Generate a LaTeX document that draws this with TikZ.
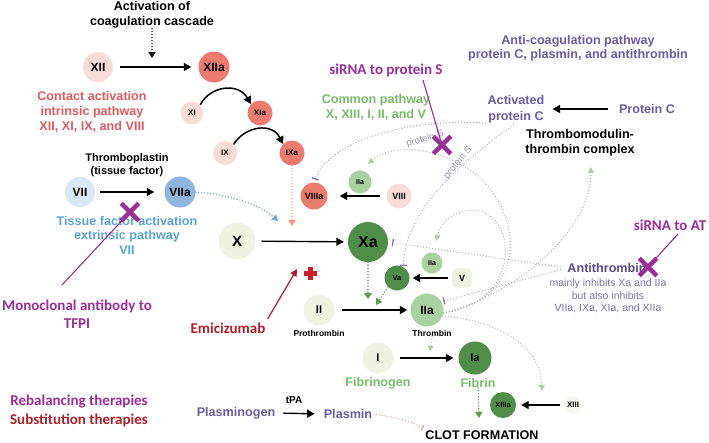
\documentclass[tikz,border=0pt]{standalone}
\usepackage{fontspec}
\setmainfont{Liberation Sans}
\newfontfamily\calfont{Carlito}
\usetikzlibrary{arrows.meta,shapes.misc}
\newcommand\myfs[2]{\fontsize{#1}{#2}\selectfont}
\definecolor{pinkL}{HTML}{F8DCDA}
\definecolor{salmon}{HTML}{EB7B6E}
\definecolor{blueL}{HTML}{DAE8F5}
\definecolor{blueM}{HTML}{8FB4DD}
\definecolor{greenP}{HTML}{EFF4E2}
\definecolor{greenL}{HTML}{A9D1A1}
\definecolor{greenD}{HTML}{4F8E49}
\definecolor{redT}{HTML}{E25A62}
\definecolor{blueT}{HTML}{5CA4D6}
\definecolor{greenT}{HTML}{7CBB6D}
\definecolor{purpT}{HTML}{6C5CA5}
\definecolor{atT}{HTML}{5B4B94}
\definecolor{atS}{HTML}{7E74B0}
\definecolor{magT}{HTML}{9C2E97}
\definecolor{dredT}{HTML}{B21E2A}
\definecolor{plusR}{HTML}{CC1F2A}
\definecolor{gdot}{HTML}{A3B69C}
\definecolor{pdot}{HTML}{A6A4C8}
\definecolor{pdotT}{HTML}{9795BF}
\definecolor{sdot}{HTML}{EE9888}
\definecolor{bdot}{HTML}{6FA7D5}
\definecolor{gArr}{HTML}{5E9C54}
\begin{document}
\begin{tikzpicture}[x=1pt,y=-1pt,
  fac/.style={circle, inner sep=0pt},
  lab/.style={align=center, inner sep=0pt, font=\bfseries\myfs{12.6}{15}},
  cal/.style={align=center, inner sep=0pt, font=\calfont\bfseries\myfs{15}{18}},
  arr/.style={line width=1.4pt, -{Triangle[length=7.5pt,width=8pt]}},
  dotline/.style={line width=1.3pt, line cap=round, dash pattern=on 0pt off 3pt},
  gcurve/.style={dotline, color=gdot, -{Triangle[length=6pt,width=6pt,color=greenL]}},
  inhib/.style={dotline, -{Bar[width=7pt,line width=1.3pt]}},
  xmark/.style={cross out, draw=magT, line width=4.5pt, minimum size=13pt, inner sep=0pt},
  pline/.style={magT, line width=1.1pt}
]
\fill[white] (0,0) rectangle (709,442);
\useasboundingbox (0,0) rectangle (709,442);

% ---------- text labels ----------
\node[lab] (act) at (152,15) {Activation of\\coagulation cascade};
\node[lab, text=redT] (contact) at (92,112) {Contact activation\\intrinsic pathway\\XII, XI, IX, and VIII};
\node[lab, font=\bfseries\myfs{11}{13}] (tpl) at (127,165) {Thromboplastin\\(tissue factor)};
\node[lab, text=blueT, font=\bfseries\myfs{12.6}{14.5}] (tfa) at (127,235) {Tissue factor activation\\extrinsic pathway\\VII};
\node[cal, text=magT] (mono) at (77,314) {Monoclonal antibody to\\TFPI};
\node[cal, text=dredT] (emi) at (228,328) {Emicizumab};
\node[cal, text=magT] (rebal) at (79,402) {Rebalancing therapies};
\node[cal, text=dredT] (subst) at (79,420) {Substitution therapies};
\node[lab, text=purpT] (plg) at (236,413) {Plasminogen};
\node[lab, font=\bfseries\myfs{10}{10}] (tpa) at (294,400) {tPA};
\node[lab, text=purpT] (plm) at (348,414) {Plasmin};
\node[lab] (clot) at (482,435) {CLOT FORMATION};
\node[lab, text=greenT] (common) at (376,107) {Common pathway\\X, XIII, I, II, and V};
\node[cal, text=magT] (sirnaS) at (386,70) {siRNA to protein S};
\node[lab, text=purpT, font=\bfseries\myfs{12.6}{13.5}] (anti) at (578,48) {Anti-coagulation pathway\\protein C, plasmin, and antithrombin};
\node[lab, text=purpT, font=\bfseries\myfs{12.6}{16}] (actC) at (516,109) {Activated\\protein C};
\node[lab, text=purpT] (protC) at (647,109) {Protein C};
\node[lab] (tm) at (580,143) {Thrombomodulin-\\thrombin complex};
\node[lab, text=atT] (atn) at (607,268) {Antithrombin};
\node[align=center, inner sep=0pt, text=atS, font=\myfs{10.5}{12.5}] (atsub) at (608,296) {mainly inhibits Xa and IIa\\but also inhibits\\VIIa, IXa, XIa, and XIIa};
\node[cal, text=magT] (sirnaAT) at (670,225) {siRNA to AT};
\node[lab, font=\bfseries\myfs{8.5}{9}] (proth) at (319,333) {Prothrombin};
\node[lab, font=\bfseries\myfs{8.5}{9}] (thr) at (432,333) {Thrombin};
\node[lab, text=greenT] (fibg) at (378,383) {Fibrinogen};
\node[lab, text=greenT] (fib) at (478,383) {Fibrin};

% ---------- factor circles ----------
\node[fac, fill=pinkL, minimum size=30pt, font=\bfseries\myfs{12}{12}] (fXII) at (98,67) {XII};
\node[fac, fill=salmon, minimum size=31pt, font=\bfseries\myfs{12}{12}] (fXIIa) at (214,67) {XIIa};
\node[fac, fill=pinkL, minimum size=23pt, font=\bfseries\myfs{8}{8}] (fXI) at (192,113) {XI};
\node[fac, fill=salmon, minimum size=25pt, font=\bfseries\myfs{8}{8}] (fXIa) at (260,113) {XIa};
\node[fac, fill=pinkL, minimum size=24pt, font=\bfseries\myfs{8}{8}] (fIX) at (225,153) {IX};
\node[fac, fill=salmon, minimum size=25pt, font=\bfseries\myfs{8}{8}] (fIXa) at (292,153) {IXa};
\node[fac, fill=blueL, minimum size=30pt, font=\bfseries\myfs{12}{12}] (fVII) at (80,192) {VII};
\node[fac, fill=blueM, minimum size=31pt, font=\bfseries\myfs{12}{12}] (fVIIa) at (180,192) {VIIa};
\node[fac, fill=greenP, minimum size=37pt, font=\bfseries\myfs{15}{15}] (fX) at (237,241) {X};
\node[fac, fill=greenD, minimum size=40pt, font=\bfseries\myfs{16}{16}] (fXa) at (368,242) {Xa};
\node[fac, fill=salmon, minimum size=27pt, font=\bfseries\myfs{9}{9}] (fVIIIa) at (314,196) {VIIIa};
\node[fac, fill=pinkL, minimum size=25pt, font=\bfseries\myfs{9}{9}] (fVIII) at (399,196) {VIII};
\node[fac, fill=greenL, minimum size=23pt, font=\bfseries\myfs{7}{7}] (fIIaA) at (360,182) {IIa};
\node[fac, fill=greenD, minimum size=25pt, font=\bfseries\myfs{7.5}{7.5}] (fVa) at (397,278) {Va};
\node[fac, fill=greenL, minimum size=21pt, font=\bfseries\myfs{7}{7}] (fIIaB) at (432,263) {IIa};
\node[rectangle, rounded corners=5pt, inner sep=0pt, fill=greenP, minimum size=20pt, font=\bfseries\myfs{9}{9}] (fV) at (462,278) {V};
\node[fac, fill=greenP, minimum size=31pt, font=\bfseries\myfs{11}{11}] (fII) at (319,310) {II};
\node[fac, fill=greenL, minimum size=33pt, font=\bfseries\myfs{12}{12}] (fIIa) at (427,310) {IIa};
\node[fac, fill=greenP, minimum size=31pt, font=\bfseries\myfs{11}{11}] (fI) at (378,358) {I};
\node[fac, fill=greenD, minimum size=33pt, font=\bfseries\myfs{11}{11}] (fIa) at (475,358) {Ia};
\node[fac, fill=greenD, minimum size=26pt, font=\bfseries\myfs{7.5}{7.5}] (fXIIIa) at (503,405) {XIIIa};
\node[fac, fill=greenP!60, minimum size=18pt, font=\bfseries\myfs{8}{8}] (fXIII) at (573,405) {XIII};

% ---------- solid arrows ----------
\draw[arr, shorten <=7pt, shorten >=7pt] (fXII) -- (fXIIa);
\draw[arr, shorten <=5pt, shorten >=10pt] (fVII) -- (fVIIa);
\draw[arr, shorten <=6pt, shorten >=4pt] (fX) -- (fXa);
\draw[arr, shorten <=6pt, shorten >=12pt] (fVIII) -- (fVIIIa);
\draw[arr, shorten <=4pt, shorten >=3pt] (fV) -- (fVa);
\draw[arr, shorten <=7pt, shorten >=3pt] (fII) -- (fIIa);
\draw[arr, shorten <=6pt, shorten >=5pt] (fI) -- (fIa);
\draw[arr, shorten <=4pt, shorten >=5pt] (fXIII) -- (fXIIIa);
\draw[arr, shorten <=11pt, shorten >=8pt] (protC.west) -- (actC.east);
\draw[arr, shorten <=8pt, shorten >=9pt] (plg.east) -- (plm.west);
\draw[arr, line width=1.5pt] (fXI.north east) .. controls (210,86) and (238,82) .. (fXIa.north west);
\draw[arr, line width=1.5pt] (fIX.north east) .. controls (245,126) and (272,122) .. (fIXa.north west);

% ---------- dotted arrows ----------
\coordinate (actE) at (152,58);
\draw[dotline, line width=1.5pt, -{Triangle[length=6pt,width=7pt]}] (act.south) -- (actE);
\coordinate (ixaE) at (292,226);
\draw[dotline, color=sdot, line width=1.5pt, -{Triangle[length=6pt,width=7pt]}] (fIXa.south) -- (ixaE);
\coordinate (viiaE) at (278,221);
\draw[dotline, color=bdot, line width=1.6pt, -{Triangle[length=6pt,width=7pt]}] (fVIIa.east) .. controls (225,194) and (258,203) .. (viiaE);
\coordinate (xaE) at (368,299);
\draw[dotline, color=gArr, line width=1.8pt, -{Triangle[length=6pt,width=8pt]}] (fXa.south) -- (xaE);
\coordinate (vaE) at (376,305);
\draw[dotline, color=gArr, line width=1.6pt, -{Triangle[length=6pt,width=7pt]}] (fVa.south west) -- (vaE);
\coordinate (thrE) at (430,351);
\draw[dotline, color=greenL, line width=1.5pt, -{Triangle[length=5pt,width=6pt]}] (thr.south) -- (thrE);
\coordinate (fibE) at (479,418);
\draw[dotline, color=gArr, line width=1.6pt, -{Triangle[length=6pt,width=7pt]}] (fib.south) -- (fibE);

% thrombin feedback curves
\coordinate (tmE) at (591,167);
\coordinate (iiaAE) at (368,164);
\coordinate (iiaBE) at (436,241);
\coordinate (xiiiaE) at (542,391);
\draw[gcurve] (fIIa.-10) .. controls (500,300) and (590,240) .. (tmE);
\draw[gcurve] (fIIa.-10) .. controls (530,300) and (515,200) .. (465,211) .. controls (447,215) and (440,226) .. (iiaBE);
\draw[gcurve] (fIIa.-10) .. controls (525,300) and (525,220) .. (480,178) .. controls (450,150) and (395,140) .. (iiaAE);
\draw[gcurve] (fIIa.-20) .. controls (500,322) and (540,345) .. (xiiiaE);

% antithrombin inhibition
\draw[inhib, color=gdot, -{Bar[width=7pt,line width=1.3pt,color=atS]}, shorten <=7pt, shorten >=4pt] (atn.west) -- (fXa.east);
\draw[inhib, color=gdot, -{Bar[width=7pt,line width=1.3pt,color=atS]}, shorten <=7pt, shorten >=2pt] (atn.west) -- (fIIa.30);

% protein S inhibition
\draw[inhib, color=pdot, -{Bar[width=7pt,line width=1.3pt,color=atS]}, shorten <=2pt, shorten >=3pt] (actC.south west) .. controls (410,118) and (330,140) .. (fVIIIa.north);
\draw[inhib, color=pdot, -{Bar[width=7pt,line width=1.3pt,color=atS]}, shorten <=3pt, shorten >=1pt] (actC.south) .. controls (450,170) and (405,215) .. (fVa.60);
\node[text=pdotT, font=\myfs{9.5}{9.5}, rotate=16, inner sep=0pt] (psA) at (425,139) {protein S};
\node[text=pdotT, font=\myfs{9.5}{9.5}, rotate=50, inner sep=0pt] (psB) at (458,163) {protein S};

% plasmin inhibition of clot
\coordinate (clotB) at (423,428);
\draw[dotline, color=sdot, -{Bar[width=6pt,line width=1.2pt]}, shorten <=4pt] (plm.east) .. controls (395,417) and (410,421) .. (clotB);

% emicizumab
\coordinate (emiE) at (297,269);
\draw[dredT, line width=1.2pt, shorten <=4pt, -{Triangle[length=7pt,width=7pt]}] (emi.north east) -- (emiE);
\fill[plusR] (303.5,270.5) rectangle (316.5,275.5);
\fill[plusR] (307.5,266.5) rectangle (312.5,279.5);

% magenta pointers and crosses
\coordinate (xc1) at (130,212);
\coordinate (xc2) at (442,145);
\coordinate (xc3) at (648,267);
\coordinate (mS) at (62,285);
\coordinate (sS) at (423,80);
\coordinate (aS) at (678,234);
\draw[pline] (mS) -- (xc1);
\draw[pline] (sS) -- (xc2);
\draw[pline] (aS) -- (xc3);
\node[xmark] (xm1) at (xc1) {};
\node[xmark] (xm2) at (xc2) {};
\node[xmark] (xm3) at (xc3) {};
\end{tikzpicture}
\end{document}
